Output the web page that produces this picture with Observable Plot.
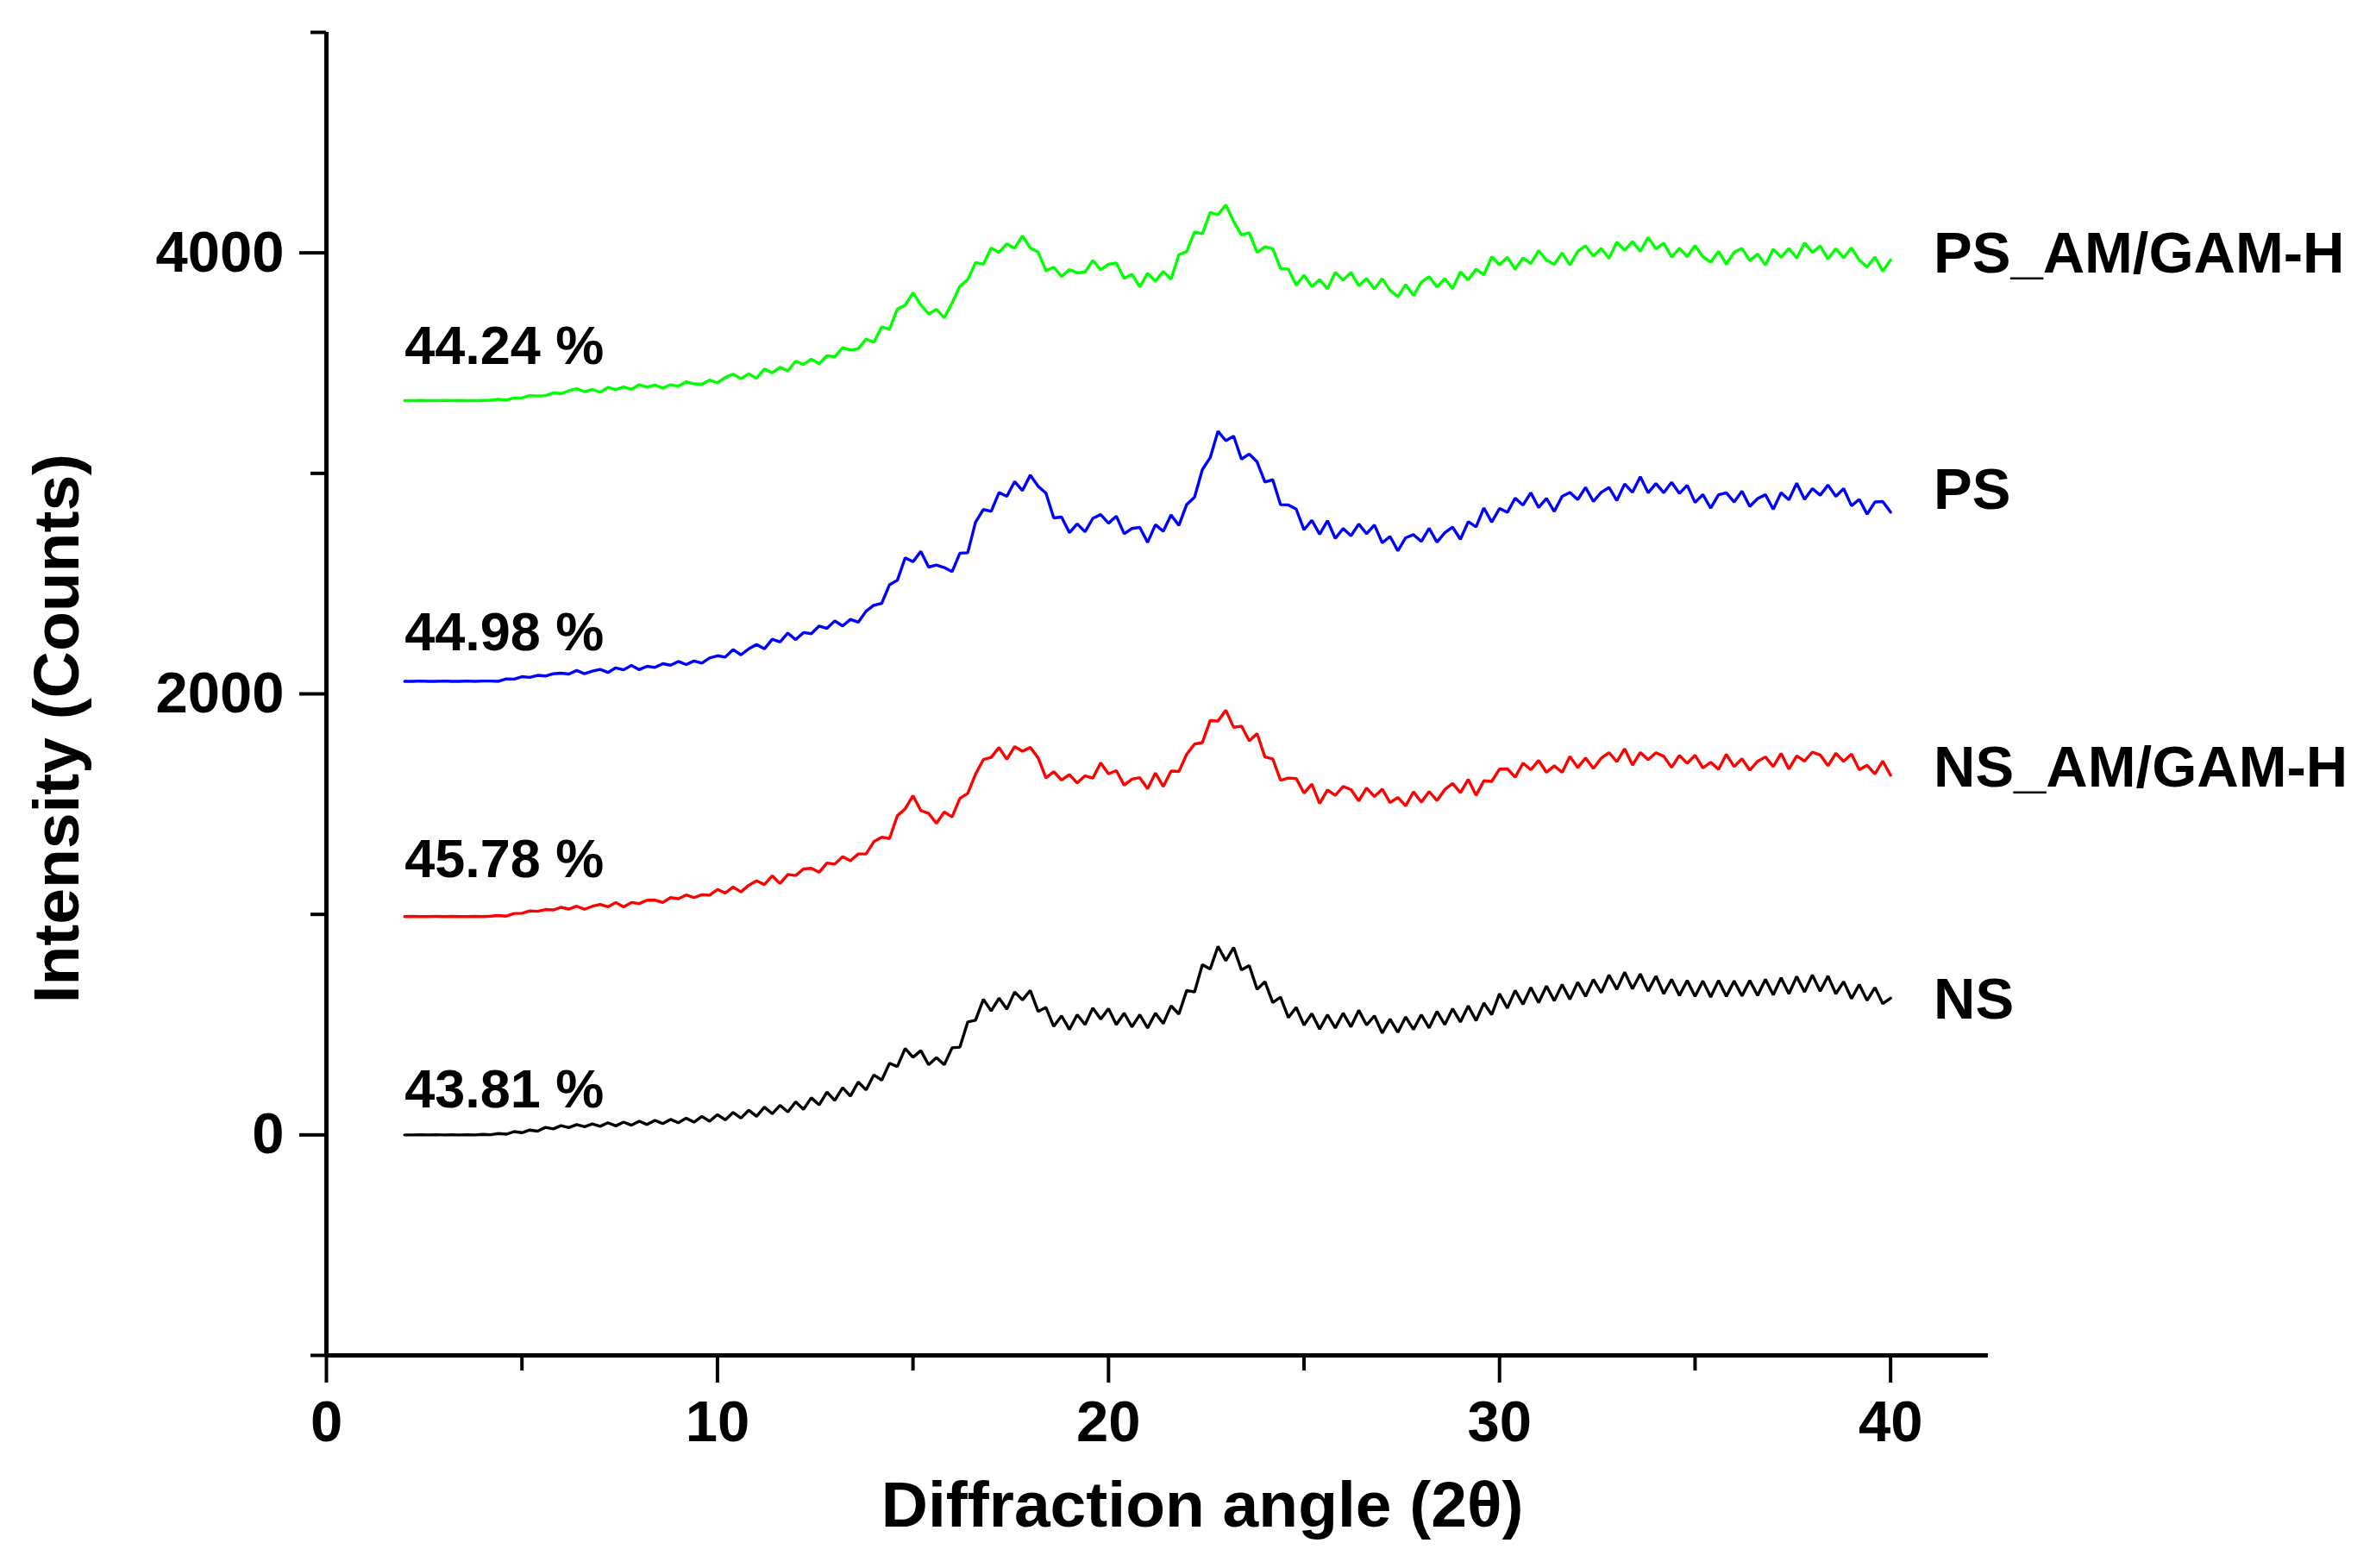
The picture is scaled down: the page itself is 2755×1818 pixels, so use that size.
<!DOCTYPE html>
<html>
<head>
<meta charset="utf-8">
<script src="https://cdn.jsdelivr.net/npm/d3@7"></script>
<script src="https://cdn.jsdelivr.net/npm/@observablehq/plot@0.6"></script>
<style>
  html, body { margin: 0; padding: 0; background: #ffffff; }
  #chart svg { display: block; }
</style>
</head>
<body>
<div id="chart"></div>
<script>
// Diffraction angle (2θ) grid
const angle = [
  2.0,2.2,2.4,2.6,2.8,3.0,3.2,3.4,3.6,3.8,
  4.0,4.2,4.4,4.6,4.8,5.0,5.2,5.4,5.6,5.8,
  6.0,6.2,6.4,6.6,6.8,7.0,7.2,7.4,7.6,7.8,
  8.0,8.2,8.4,8.6,8.8,9.0,9.2,9.4,9.6,9.8,
  10.0,10.2,10.4,10.6,10.8,11.0,11.2,11.4,11.6,11.8,
  12.0,12.2,12.4,12.6,12.8,13.0,13.2,13.4,13.6,13.8,
  14.0,14.2,14.4,14.6,14.8,15.0,15.2,15.4,15.6,15.8,
  16.0,16.2,16.4,16.6,16.8,17.0,17.2,17.4,17.6,17.8,
  18.0,18.2,18.4,18.6,18.8,19.0,19.2,19.4,19.6,19.8,
  20.0,20.2,20.4,20.6,20.8,21.0,21.2,21.4,21.6,21.8,
  22.0,22.2,22.4,22.6,22.8,23.0,23.2,23.4,23.6,23.8,
  24.0,24.2,24.4,24.6,24.8,25.0,25.2,25.4,25.6,25.8,
  26.0,26.2,26.4,26.6,26.8,27.0,27.2,27.4,27.6,27.8,
  28.0,28.2,28.4,28.6,28.8,29.0,29.2,29.4,29.6,29.8,
  30.0,30.2,30.4,30.6,30.8,31.0,31.2,31.4,31.6,31.8,
  32.0,32.2,32.4,32.6,32.8,33.0,33.2,33.4,33.6,33.8,
  34.0,34.2,34.4,34.6,34.8,35.0,35.2,35.4,35.6,35.8,
  36.0,36.2,36.4,36.6,36.8,37.0,37.2,37.4,37.6,37.8,
  38.0,38.2,38.4,38.6,38.8,39.0,39.2,39.4,39.6,39.8,
  40.0
];

// NS (black)
const nsCounts = [
  0,0,1,0,1,0,1,0,1,0,
  2,1,6,3,15,10,22,17,34,27,
  42,33,47,37,50,39,55,41,58,44,
  62,47,66,51,70,55,76,58,84,62,
  92,68,102,76,112,84,126,96,134,104,
  150,116,168,136,194,156,214,176,240,204,
  272,248,325,310,392,352,382,318,350,318,
  395,398,512,520,615,562,620,570,648,612,
  655,560,578,492,540,478,545,500,575,525,
  572,500,552,490,545,485,552,505,585,548,
  655,648,772,752,855,790,850,748,768,660,
  695,600,625,532,578,498,550,480,545,485,
  552,490,565,498,540,462,525,465,535,478,
  545,485,560,500,572,512,585,518,598,545,
  640,575,655,592,668,600,675,608,682,615,
  692,628,705,645,725,660,738,662,730,652,
  720,640,705,632,700,628,698,625,700,628,
  698,630,700,632,705,635,712,640,718,648,
  725,652,720,640,695,618,682,610,668,595,
  620
];

// NS_AM/GAM-H (red)
const nsAmCounts = [
  990,991,990,990,991,990,991,990,990,991,
  990,992,995,992,1004,1005,1016,1014,1022,1020,
  1032,1024,1037,1023,1037,1045,1034,1054,1034,1054,
  1049,1064,1065,1054,1076,1071,1088,1076,1089,1087,
  1113,1097,1124,1102,1132,1152,1135,1175,1140,1181,
  1176,1206,1209,1191,1233,1228,1262,1243,1274,1274,
  1330,1350,1344,1447,1479,1538,1471,1458,1413,1464,
  1442,1526,1549,1636,1702,1712,1757,1703,1761,1740,
  1757,1710,1619,1647,1609,1634,1596,1628,1618,1687,
  1637,1652,1586,1613,1620,1570,1641,1580,1650,1648,
  1726,1772,1779,1879,1877,1926,1848,1854,1787,1820,
  1714,1705,1608,1618,1616,1550,1591,1503,1564,1540,
  1580,1566,1515,1573,1534,1568,1507,1530,1492,1556,
  1509,1557,1516,1566,1594,1552,1612,1540,1606,1603,
  1659,1660,1622,1686,1656,1698,1644,1674,1644,1716,
  1666,1709,1662,1708,1734,1692,1751,1677,1734,1702,
  1733,1717,1666,1721,1685,1722,1664,1690,1658,1726,
  1670,1706,1654,1694,1714,1670,1730,1659,1719,1695,
  1736,1723,1674,1730,1694,1727,1656,1676,1637,1695,
  1631
];

// PS (blue)
const psCounts = [
  2057,2057,2058,2057,2057,2058,2057,2057,2058,2057,
  2058,2058,2057,2068,2067,2078,2075,2084,2081,2091,
  2094,2090,2106,2091,2103,2111,2097,2118,2109,2129,
  2110,2125,2120,2137,2130,2147,2133,2149,2139,2163,
  2173,2167,2201,2177,2204,2224,2204,2248,2235,2276,
  2246,2278,2273,2308,2297,2331,2308,2338,2325,2375,
  2402,2410,2495,2515,2617,2599,2646,2575,2584,2573,
  2554,2638,2640,2779,2836,2828,2913,2896,2963,2922,
  2992,2942,2910,2798,2802,2731,2771,2735,2796,2813,
  2774,2806,2726,2750,2755,2687,2767,2737,2812,2764,
  2859,2892,3017,3071,3191,3148,3169,3065,3088,3052,
  2961,2971,2858,2857,2838,2744,2787,2724,2785,2705,
  2750,2717,2770,2726,2766,2685,2714,2649,2708,2722,
  2691,2751,2688,2731,2756,2701,2781,2757,2843,2779,
  2841,2823,2888,2856,2912,2845,2886,2827,2896,2913,
  2881,2936,2873,2914,2936,2877,2952,2914,2985,2912,
  2954,2912,2959,2909,2946,2868,2904,2842,2903,2912,
  2870,2919,2850,2886,2903,2837,2912,2880,2955,2882,
  2931,2901,2947,2896,2931,2853,2882,2815,2870,2872,
  2824
];

// PS_AM/GAM-H (green)
const psAmCounts = [
  3330,3330,3331,3330,3330,3331,3330,3331,3330,3330,
  3331,3332,3336,3332,3342,3342,3353,3351,3353,3365,
  3361,3375,3384,3370,3380,3368,3390,3380,3392,3381,
  3402,3391,3401,3386,3402,3395,3415,3406,3404,3423,
  3411,3435,3450,3429,3451,3431,3473,3456,3481,3465,
  3509,3494,3518,3497,3533,3529,3570,3559,3565,3609,
  3595,3664,3654,3745,3762,3819,3764,3723,3744,3706,
  3773,3849,3879,3956,3948,4022,4002,4041,4021,4077,
  4022,4004,3919,3935,3892,3924,3909,3913,3966,3923,
  3948,3954,3884,3903,3846,3907,3872,3916,3880,3992,
  4006,4095,4086,4183,4173,4218,4142,4081,4091,4002,
  4027,4019,3929,3926,3853,3899,3847,3879,3837,3912,
  3876,3911,3851,3883,3836,3883,3830,3801,3856,3807,
  3867,3892,3845,3883,3838,3914,3877,3926,3900,3982,
  3946,3980,3926,3977,3951,4010,3967,3948,4000,3945,
  4007,4032,3985,4020,3975,4049,4012,4051,4007,4070,
  4018,4044,3981,4021,3983,4033,3982,3958,4007,3948,
  4003,4020,3965,3995,3945,4017,3980,4020,3976,4045,
  4002,4031,3972,4019,3978,4023,3967,3936,3981,3917,
  3967
];

const seriesNames = ["NS", "NS_AM/GAM-H", "PS", "PS_AM/GAM-H"];
const seriesColors = ["#000000", "#ff0000", "#0000ff", "#00ff00"];
const crystallinity = ["43.81 %", "45.78 %", "44.98 %", "44.24 %"];
// annotation anchor levels (counts) for the text labels
const crystLabelLevel = [204, 1248, 2277, 3575];
const nameLabelLevel = [610, 1665, 2921, 3994];

const xMajorTicks = [0, 10, 20, 30, 40];
const xMinorTicks = [5, 15, 25, 35];
const yMajorTicks = [0, 2000, 4000];
const yMinorTicks = [-1000, 1000, 3000, 5000];

const xTitle = "Diffraction angle (2θ)";
const yTitle = "Intensity (Counts)";

// Build tables for Plot
const seriesValues = [nsCounts, nsAmCounts, psCounts, psAmCounts];
const rows = [];
seriesValues.forEach((vals, s) => {
  angle.forEach((a, i) => rows.push({angle: a, count: vals[i], series: seriesNames[s]}));
});
const cryst = crystallinity.map((t, i) => ({text: t, level: crystLabelLevel[i]}));
const names = seriesNames.map((t, i) => ({text: t, level: nameLabelLevel[i]}));

const chart = Plot.plot({
  width: 2755,
  height: 1818,
  marginLeft: 378,
  marginRight: 450,
  marginTop: 37,
  marginBottom: 247,
  style: {
    fontFamily: "'Liberation Sans', Arial, Helvetica, sans-serif",
    fontWeight: "bold",
    background: "#ffffff",
    color: "#000000",
    overflow: "visible"
  },
  x: {domain: [0, 42.5], label: null},
  y: {domain: [-1000, 5000], label: null},
  color: {domain: seriesNames, range: seriesColors},
  marks: [
    Plot.line(rows, {x: "angle", y: "count", z: "series", stroke: "series", strokeWidth: 3.4, strokeLinejoin: "miter"}),
    Plot.axisX({ticks: xMajorTicks, label: null, tickSize: 32, tickPadding: 20, fontSize: 67, strokeWidth: 4, tickFormat: d => String(d)}),
    Plot.axisX({ticks: xMinorTicks, label: null, tickSize: 18, strokeWidth: 4, tickFormat: () => ""}),
    Plot.axisY({ticks: yMajorTicks, label: null, tickSize: 31, tickPadding: 18, fontSize: 67, strokeWidth: 4, tickFormat: d => String(d)}),
    Plot.axisY({ticks: yMinorTicks, label: null, tickSize: 18, strokeWidth: 4, tickFormat: () => ""}),
    Plot.ruleX([0], {stroke: "#000000", strokeWidth: 5}),
    Plot.ruleY([-1000], {stroke: "#000000", strokeWidth: 5}),
    Plot.text(cryst, {x: 2.0, y: "level", text: "text", textAnchor: "start", fontSize: 63, fontWeight: "bold", fill: "#000000"}),
    Plot.text(names, {x: 41.1, y: "level", text: "text", textAnchor: "start", fontSize: 67, fontWeight: "bold", fill: "#000000"}),
    Plot.text([xTitle], {x: 22.4, frameAnchor: "bottom", dy: 198, text: d => d, fontSize: 75, fontWeight: "bold", fill: "#000000"}),
    Plot.text([yTitle], {x: -6.87, y: 1843, text: d => d, rotate: -90, fontSize: 75, fontWeight: "bold", fill: "#000000"})
  ]
});
document.getElementById("chart").appendChild(chart);
</script>
</body>
</html>
